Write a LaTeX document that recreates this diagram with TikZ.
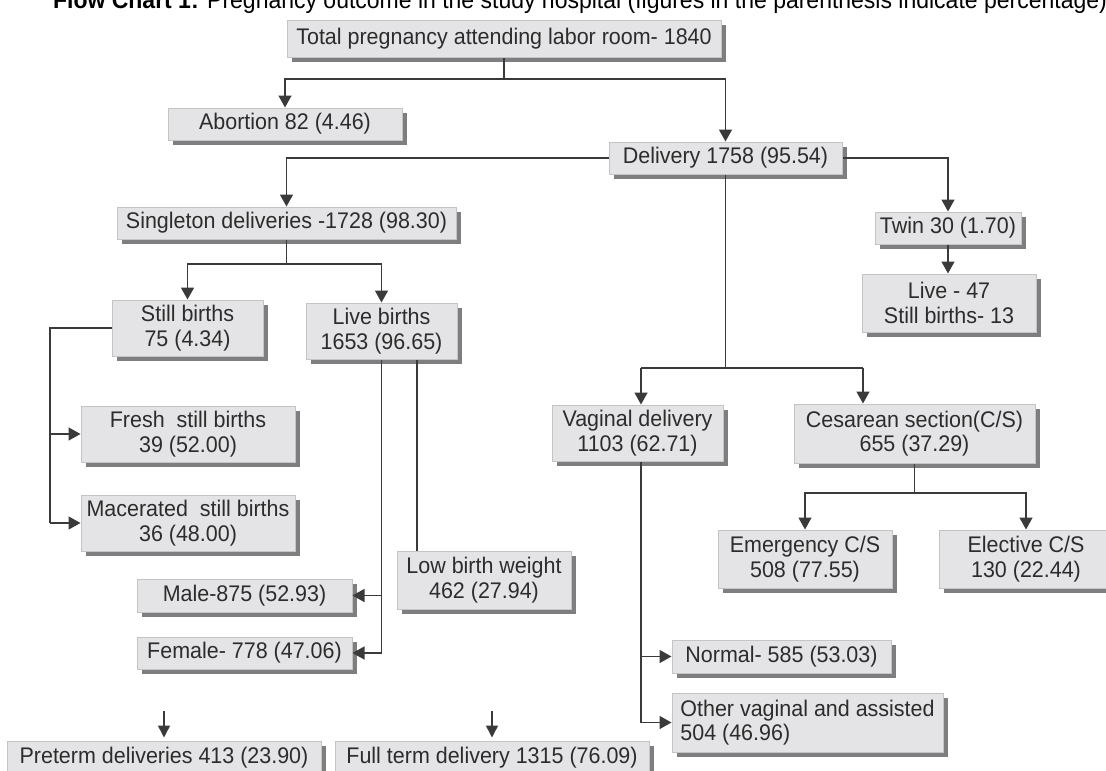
\documentclass[tikz,border=0pt]{standalone}
\usepackage{fontspec}
\setmainfont[FakeStretch=0.95]{Liberation Sans}
\usetikzlibrary{arrows.meta,shadows}
\definecolor{boxfill}{HTML}{E4E4E6}
\definecolor{boxline}{HTML}{C4C4C4}
\definecolor{shadowc}{HTML}{7E7E80}
\definecolor{linec}{HTML}{3A3A3A}
\definecolor{textc}{HTML}{2C2C2C}
\newcommand\mybox[6]{\node[box,minimum width=#4pt,minimum height=#5pt] (#1) at (#2,#3) {#6};}
\begin{document}
\begin{tikzpicture}[x=1pt,y=-1pt,
  box/.style={draw=boxline, line width=1pt, fill=boxfill, text=textc, align=center, inner sep=0pt,
    font=\fontsize{22.6}{24.5}\selectfont,
    drop shadow={shadow xshift=5pt,shadow yshift=-5pt,fill=shadowc,opacity=1}},
  conn/.style={draw=linec, line width=1.5pt},
  arr/.style={conn, -{Triangle[width=13pt,length=12pt]}},
  smallarr/.style={conn, -{Triangle[width=12pt,length=12pt]}, shorten >=3pt},
]
\clip (0,0) rectangle (1106,771);
\node[anchor=base, font=\fontsize{24.2}{26}\selectfont, text=black] (title) at (580,9)
  {\textbf{Flow Chart 1:} Pregnancy outcome in the study hospital (figures in the parenthesis indicate percentage)};

\mybox{top}{504}{38.5}{434}{37}{Total pregnancy attending labor room- 1840}
\mybox{abort}{285}{124}{234}{32}{Abortion 82 (4.46)}
\mybox{deliv}{725.5}{158}{233}{32}{Delivery 1758 (95.54)}
\mybox{single}{286.5}{223}{339}{32}{Singleton deliveries -1728 (98.30)}
\mybox{twin}{948}{228}{146}{32}{Twin 30 (1.70)}
\mybox{live}{949}{303}{174}{58}{Live - 47\\Still births- 13}
\mybox{still}{187.5}{328}{151}{56}{Still births\\75 (4.34)}
\mybox{liveb}{381.5}{331}{151}{56}{Live births\\1653 (96.65)}
\mybox{fresh}{188}{434}{214}{56}{Fresh\ \ still births\\39 (52.00)}
\mybox{macer}{188}{523}{214}{56}{Macerated\ \ still births\\36 (48.00)}
\mybox{lbw}{484}{580}{174}{58}{Low birth weight\\462 (27.94)}
\mybox{male}{244.5}{595.5}{215}{33}{Male-875 (52.93)}
\mybox{female}{244.5}{653}{215}{32}{Female- 778 (47.06)}
\mybox{vag}{637.5}{433}{171}{56}{Vaginal delivery\\1103 (62.71)}
\mybox{ces}{914.5}{433.5}{241}{59}{Cesarean section(C/S)\\655 (37.29)}
\mybox{emerg}{805}{559}{174}{58}{Emergency C/S\\508 (77.55)}
\mybox{elect}{1026}{559}{174}{58}{Elective C/S\\130 (22.44)}
\mybox{normal}{781.5}{656.5}{219}{33}{Normal- 585 (53.03)}
\node[box,align=left,minimum width=271pt,minimum height=59pt] (other) at (807.5,722.5) {Other vaginal and assisted\\504 (46.96)};
\mybox{pre}{164}{757.5}{314}{33}{Preterm deliveries 413 (23.90)}
\mybox{full}{492}{757.5}{314}{33}{Full term delivery 1315 (76.09)}

% helper coordinates
\coordinate (h1) at (0,79);
\coordinate (h2) at (0,264);
\coordinate (h3) at (0,368);
\coordinate (h4) at (0,493);
\coordinate (v1) at (50,0);
\coordinate (v3) at (417,0);
\coordinate (v4) at (641,0);
\coordinate (v5) at (863,0);
\coordinate (p1) at (164,711);
\coordinate (p2) at (492,711);

% top level
\draw[conn] (top.south) -- (top.south|-h1);
\draw[arr] (top.south|-h1) -| (abort.north);
\draw[arr] (top.south|-h1) -| (deliv.north);
% delivery branches
\draw[arr] (deliv.west) -| (single.north);
\draw[arr] (deliv.east) -| (twin.north);
\draw[arr] (twin.south) -- (twin.south|-live.north);
% singleton
\draw[conn] (single.south) -- (single.south|-h2);
\draw[arr] (single.south|-h2) -| (still.north);
\draw[arr] (single.south|-h2) -| (liveb.north);
% still births
\draw[conn] (still.west) -| (v1|-macer.west);
\draw[arr] (v1|-fresh.west) -- (fresh.west);
\draw[arr] (v1|-macer.west) -- (macer.west);
% live births
\draw[arr] (liveb.south) |- (female.east);
\draw[arr] (liveb.south|-male.east) -- (male.east);
\draw[conn] (v3|-liveb.south) -- (v3|-lbw.north);
% delivery down
\draw[conn] (deliv.south) -- (deliv.south|-h3);
\draw[conn] (v4|-h3) -- (v5|-h3);
\draw[arr] (v4|-h3) -- (v4|-vag.north);
\draw[arr] (v5|-h3) -- (v5|-ces.north);
% cesarean
\draw[conn] (ces.south) -- (ces.south|-h4);
\draw[arr] (ces.south|-h4) -| (emerg.north);
\draw[arr] (ces.south|-h4) -| (elect.north);
% vaginal
\draw[arr] (v4|-vag.south) |- (other.west);
\draw[arr] (v4|-normal.west) -- (normal.west);
% bottom arrows
\draw[smallarr] (p1) -- (pre.north);
\draw[smallarr] (p2) -- (full.north);
\end{tikzpicture}
\end{document}
